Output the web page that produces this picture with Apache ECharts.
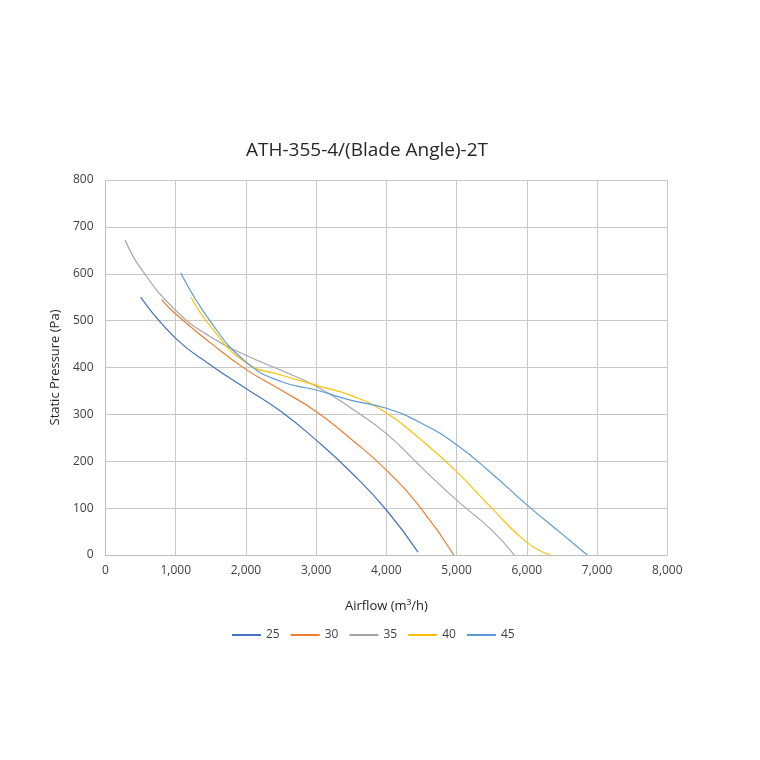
<!DOCTYPE html>
<html>
<head>
<meta charset="utf-8">
<script src="https://cdn.jsdelivr.net/npm/echarts@6/dist/echarts.min.js"></script>
<style>
	html, body { margin: 0; padding: 0; background: #fff; }
	#chart { width: 760px; height: 760px; }
</style>
</head>
<body>
<div id="chart"></div>
<script>
	// blade angle curves: [airflow m3/h, static pressure Pa]
	const angle25 = [[500, 550], [1000, 462], [1500, 405], [2000, 355], [2500, 306], [3000, 245], [3500, 176], [4000, 96], [4450, 6]];
	const angle30 = [[800, 545], [1000, 514], [1500, 452], [2000, 396], [2500, 352], [3000, 306], [3500, 247], [4000, 181], [4500, 98], [4960, 0]];
	const angle35 = [[280, 672], [500, 612], [1000, 522], [1500, 465], [2000, 426], [2500, 394], [3000, 360], [3500, 313], [4000, 259], [4500, 187], [5000, 117], [5500, 53], [5820, 0]];
	const angle40 = [[1220, 550], [1500, 487], [2000, 410], [2500, 384], [3000, 362], [3500, 340], [4000, 303], [4500, 245], [5000, 178], [5500, 100], [6000, 27], [6330, 0]];
	const angle45 = [[1070, 602], [1500, 497], [2000, 412], [2500, 370], [3000, 352], [3500, 330], [4000, 313], [4500, 281], [5000, 235], [5500, 174], [6000, 107], [6500, 45], [6860, 0]];

	const seriesNames = ["25", "30", "35", "40", "45"];
	const seriesData = [angle25, angle30, angle35, angle40, angle45];
	const colors = ["#4472C4", "#ED7D31", "#A5A5A5", "#FFC000", "#5B9BD5"];

	const FONT = "Open Sans";

	const chart = echarts.init(document.getElementById("chart"));

	chart.setOption({
		animation: false,
		color: colors,
		title: {
			text: "ATH-355-4/(Blade Angle)-2T",
			left: 362,
			top: 136,
			textAlign: "center",
			textStyle: { fontFamily: FONT, fontSize: 19, fontWeight: "normal", color: "#262626" },
		},
		legend: {
			bottom: 114,
			left: 227,
			itemWidth: 29,
			itemHeight: 2,
			itemGap: 11,
			icon: "rect",
			textStyle: { fontFamily: FONT, fontSize: 12, color: "#404040" },
			data: seriesNames,
		},
		grid: { left: 105.5, right: 92.7, top: 180, bottom: 205, containLabel: false },
		xAxis: {
			type: "value",
			min: 0,
			max: 8000,
			interval: 1000,
			name: "Airflow (m³/h)",
			nameLocation: "middle",
			nameGap: 45,
			nameTextStyle: { fontFamily: FONT, fontSize: 13, color: "#262626" },
			axisLine: { show: true, lineStyle: { color: "#bfbfbf" } },
			axisTick: { show: false },
			axisLabel: {
				fontFamily: FONT, fontSize: 12, color: "#404040", margin: 10,
				formatter: (v) => v.toLocaleString("en-US"),
			},
			splitLine: { show: true, lineStyle: { color: "#c8c8c8", width: 1 } },
		},
		yAxis: {
			type: "value",
			min: 0,
			max: 800,
			interval: 100,
			name: "Static Pressure (Pa)",
			nameLocation: "middle",
			nameGap: 38,
			nameRotate: 90,
			nameTextStyle: { fontFamily: FONT, fontSize: 13, color: "#262626" },
			axisLine: { show: true, lineStyle: { color: "#bfbfbf" } },
			axisTick: { show: false },
			axisLabel: { fontFamily: FONT, fontSize: 12, color: "#404040", margin: 12 },
			splitLine: { show: true, lineStyle: { color: "#c8c8c8", width: 1 } },
		},
		series: seriesNames.map((name, i) => ({
			name: name,
			type: "line",
			data: seriesData[i],
			smooth: 0.5,
			showSymbol: false,
			lineStyle: { width: 1.2, color: colors[i] },
		})),
	});
</script>
</body>
</html>
